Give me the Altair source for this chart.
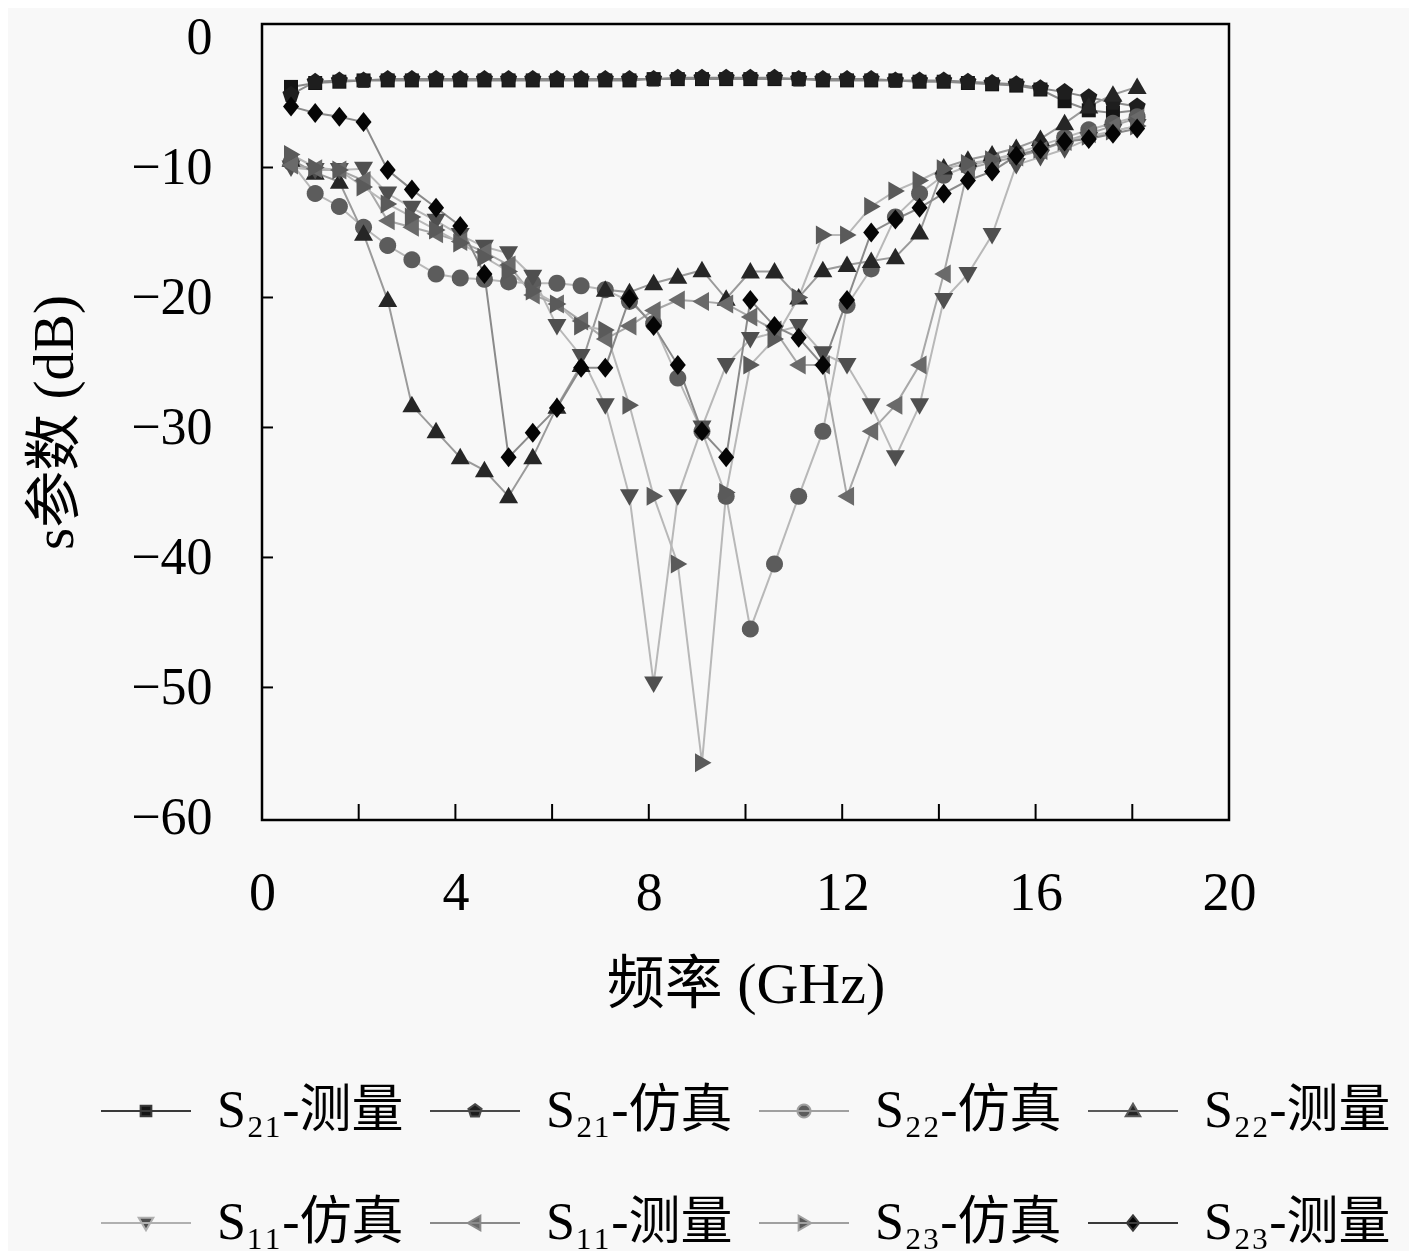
import math
import pandas as pd
import altair as alt

# ---------------- data ----------------
freq = [0.6, 1.1, 1.6, 2.1, 2.6, 3.1, 3.6, 4.1, 4.6, 5.1, 5.6, 6.1, 6.6, 7.1, 7.6, 8.1, 8.6, 9.1,
        9.6, 10.1, 10.6, 11.1, 11.6, 12.1, 12.6, 13.1, 13.6, 14.1, 14.6, 15.1, 15.6, 16.1, 16.6,
        17.1, 17.6, 18.1]

s21_meas = [-3.8, -3.5, -3.4, -3.3, -3.3, -3.3, -3.3, -3.3, -3.3, -3.3,
            -3.3, -3.3, -3.3, -3.3, -3.3, -3.2, -3.2, -3.2, -3.2, -3.2,
            -3.2, -3.2, -3.3, -3.3, -3.3, -3.3, -3.4, -3.4, -3.5, -3.6,
            -3.7, -4.0, -4.9, -5.6, -5.8, -5.6]
s21_sim = [-4.4, -3.4, -3.3, -3.3, -3.2, -3.2, -3.2, -3.2, -3.2, -3.2,
           -3.2, -3.2, -3.2, -3.2, -3.2, -3.2, -3.1, -3.1, -3.1, -3.1,
           -3.1, -3.2, -3.2, -3.2, -3.2, -3.3, -3.3, -3.3, -3.4, -3.5,
           -3.6, -3.9, -4.2, -4.6, -5.0, -5.3]
s22_sim = [-9.6, -12.0, -13.0, -14.6, -16.0, -17.1, -18.2, -18.5, -18.6, -18.8,
           -18.9, -18.9, -19.1, -19.4, -20.3, -22.0, -26.2, -30.3, -35.3, -45.5,
           -40.5, -35.3, -30.3, -20.6, -17.8, -13.8, -12.0, -10.6, -9.9, -9.4,
           -8.9, -8.3, -7.7, -7.1, -6.6, -6.1]
s22_meas = [-9.4, -10.4, -11.1, -15.1, -20.2, -28.3, -30.3, -32.3, -33.3, -35.3,
            -32.3, -28.4, -25.2, -19.4, -19.6, -18.9, -18.4, -17.9, -20.1, -18.0,
            -18.0, -20.0, -17.9, -17.5, -17.2, -16.9, -15.0, -10.0, -9.4, -9.0,
            -8.5, -7.8, -6.6, -5.3, -4.4, -3.8]
s11_sim = [-10.0, -10.2, -10.2, -10.1, -12.0, -13.1, -14.1, -15.2, -16.1, -16.6,
           -18.4, -22.2, -24.5, -28.3, -35.3, -49.7, -35.3, -30.0, -25.2, -23.2,
           -22.7, -22.2, -24.3, -25.2, -28.3, -32.3, -28.3, -20.2, -18.2, -15.2,
           -9.8, -9.2, -8.6, -7.8, -7.2, -6.8]
s11_meas = [-9.8, -10.1, -10.2, -11.0, -14.1, -14.6, -15.1, -15.7, -16.5, -17.5,
            -19.8, -20.5, -21.8, -23.2, -22.2, -21.0, -20.2, -20.3, -20.5, -21.5,
            -22.5, -25.2, -25.2, -35.3, -30.3, -28.3, -25.2, -18.2, -10.1, -9.6,
            -9.2, -8.7, -8.0, -7.4, -6.8, -6.2]
s23_sim = [-9.0, -10.0, -10.2, -11.5, -12.8, -13.8, -14.8, -15.8, -16.9, -18.0,
           -19.5, -20.5, -22.2, -22.5, -28.3, -35.3, -40.5, -55.8, -35.0, -25.2,
           -23.2, -20.0, -15.2, -15.2, -13.0, -11.8, -11.0, -10.1, -9.7, -9.4,
           -9.0, -8.6, -8.0, -7.6, -7.2, -6.8]
s23_meas = [-5.3, -5.8, -6.1, -6.5, -10.2, -11.7, -13.1, -14.5, -18.2, -32.3,
            -30.4, -28.5, -25.4, -25.4, -20.1, -22.2, -25.2, -30.3, -32.3, -20.2,
            -22.2, -23.1, -25.2, -20.2, -15.0, -14.0, -13.1, -12.0, -11.0, -10.3,
            -9.1, -8.6, -8.0, -7.8, -7.4, -7.0]

names = ["S₂₁-测量", "S₂₁-仿真", "S₂₂-仿真", "S₂₂-测量",
         "S₁₁-仿真", "S₁₁-测量", "S₂₃-仿真", "S₂₃-测量"]
series_values = [s21_meas, s21_sim, s22_sim, s22_meas, s11_sim, s11_meas, s23_sim, s23_meas]

x_tick_labels = [0, 4, 8, 12, 16, 20]
x_minor_ticks = [2, 4, 6, 8, 10, 12, 14, 16, 18]
y_tick_labels = [-60, -50, -40, -30, -20, -10, 0]
y_minor_ticks = [-50, -40, -30, -20, -10]

rows = []
for n, vals in zip(names, series_values):
    for f, v in zip(freq, vals):
        rows.append({"freq": f, "db": v, "series": n})
df = pd.DataFrame(rows)

# ---------------- styles ----------------
FONT = "Liberation Serif, Noto Sans CJK SC, serif"


def poly(pts, s):
    return "M" + "L".join(f"{x * s:.3f},{y * s:.3f}" for x, y in pts) + "Z"


square = [(-0.7, -0.7), (0.7, -0.7), (0.7, 0.7), (-0.7, 0.7)]
pentagon = [(0.9 * math.sin(2 * math.pi * k / 5), -0.9 * math.cos(2 * math.pi * k / 5)) for k in range(5)]
circle = [(0.85 * math.cos(2 * math.pi * k / 24), 0.85 * math.sin(2 * math.pi * k / 24)) for k in range(24)]
tri_up = [(0, -0.95), (0.95, 0.7), (-0.95, 0.7)]
tri_down = [(0, 0.95), (0.95, -0.7), (-0.95, -0.7)]
tri_left = [(-0.95, 0), (0.7, -0.95), (0.7, 0.95)]
tri_right = [(0.95, 0), (-0.7, -0.95), (-0.7, 0.95)]
diamond = [(0, -1.0), (0.8, 0), (0, 1.0), (-0.8, 0)]
shapes = [square, pentagon, circle, tri_up, tri_down, tri_left, tri_right, diamond]
plot_paths = [poly(p, 1.0) for p in shapes]
legend_paths = ["M-1,0H1" + poly(p, 0.17) for p in shapes]

marker_fill = ["#151515", "#1e1e1e", "#5c5c5c", "#262626", "#4f4f4f", "#6a6a6a", "#5a5a5a", "#050505"]
plot_line = ["#8a8a8a", "#8a8a8a", "#b8b8b8", "#9a9a9a", "#b8b8b8", "#a8a8a8", "#b8b8b8", "#8a8a8a"]
legend_line = ["#3a3a3a", "#4a4a4a", "#a0a0a0", "#5a5a5a", "#b0b0b0", "#8a8a8a", "#a0a0a0", "#3a3a3a"]

TOP = 24
W, H = 967, 820 - TOP
xscale = alt.Scale(domain=[0, 20], nice=False, zero=False)
yscale = alt.Scale(domain=[-60.2, 1.04], nice=False, zero=False)
xaxis = alt.Axis(values=x_tick_labels, title="频率 (GHz)", domain=False, ticks=False, tickSize=0,
                 grid=False, labelPadding=46, titlePadding=36, labelFontSize=54, titleFontSize=58,
                 labelFont=FONT, titleFont=FONT, labelColor="black", titleColor="black",
                 titleFontWeight="normal", labelFlush=False, format="d")
yaxis = alt.Axis(values=y_tick_labels, title="s参数 (dB)", domain=False, ticks=False, tickSize=0,
                 grid=False, labelPadding=50, titlePadding=46, labelFontSize=52, titleFontSize=57,
                 labelFont=FONT, titleFont=FONT, labelColor="black", titleColor="black",
                 titleFontWeight="normal", labelFlush=False, format="d")

X = alt.X("freq:Q", scale=xscale, axis=xaxis)
Y = alt.Y("db:Q", scale=yscale, axis=yaxis)

xt = alt.Chart(pd.DataFrame({"freq": x_minor_ticks})).mark_rule(color="black", strokeWidth=2).encode(
    x=X, y=alt.value(H), y2=alt.value(H - 16))
yt = alt.Chart(pd.DataFrame({"db": y_minor_ticks})).mark_rule(color="black", strokeWidth=2).encode(
    y=Y, x=alt.value(0), x2=alt.value(11))

lines = alt.Chart(df).mark_line(strokeWidth=2).encode(
    x=X, y=Y,
    stroke=alt.Stroke("series:N", scale=alt.Scale(domain=names, range=plot_line), legend=None),
)

points = alt.Chart(df).mark_point(filled=True, size=400, strokeWidth=0, opacity=1).encode(
    x=X, y=Y,
    fill=alt.Fill("series:N", scale=alt.Scale(domain=names, range=marker_fill), legend=None),
    shape=alt.Shape("series:N", scale=alt.Scale(domain=names, range=plot_paths), legend=None),
)

leg_props = dict(title=None, orient="none", legendX=-162, legendY=1065 - TOP, columns=4,
                 direction="horizontal", columnPadding=22, rowPadding=40, labelFont=FONT,
                 labelFontSize=52, labelColor="black", labelOffset=25, symbolSize=8100,
                 symbolStrokeWidth=2, symbolOpacity=1, padding=0, labelLimit=500)

legend_layer = alt.Chart(df).transform_filter("datum.freq < -1000").mark_point(
    filled=True, size=8100, strokeWidth=2, opacity=1).encode(
    fill=alt.Fill("series:N", scale=alt.Scale(domain=names, range=marker_fill), legend=alt.Legend(**leg_props)),
    stroke=alt.Stroke("series:N", scale=alt.Scale(domain=names, range=legend_line), legend=alt.Legend(**leg_props)),
    shape=alt.Shape("series:N", scale=alt.Scale(domain=names, range=legend_paths), legend=alt.Legend(**leg_props)),
)

chart = alt.layer(lines, points, xt, yt, legend_layer).resolve_scale(
    fill="independent", stroke="independent", shape="independent"
).properties(
    width=W, height=H, background="#f8f8f8",
    padding={"left": 254, "top": TOP - 8, "right": 180, "bottom": 431},
    autosize=alt.AutoSizeParams(type="none"),
).configure_view(stroke="black", strokeWidth=2.5)

chart.save("out.html", embed_options={"renderer": "svg", "actions": False})
